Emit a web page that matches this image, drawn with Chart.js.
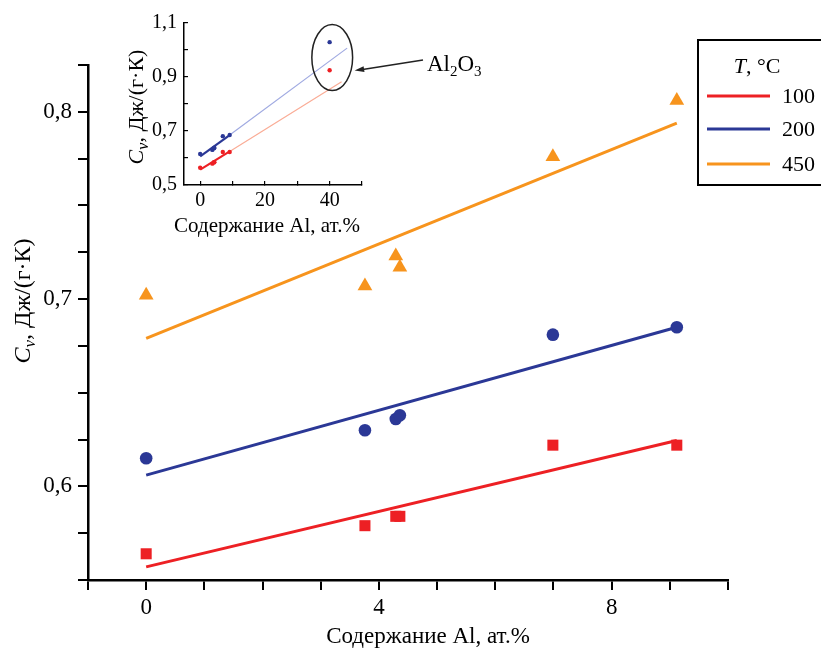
<!DOCTYPE html>
<html><head><meta charset="utf-8">
<script src="https://cdn.jsdelivr.net/npm/chart.js@4"></script>
<style>
html,body{margin:0;padding:0;background:#fff;}
#wrap{position:relative;width:821px;height:655px;overflow:hidden;background:#fff;}
#main{position:absolute;left:0;top:0;}
#inset{position:absolute;left:100px;top:0;}
</style></head><body>
<div id="wrap"><canvas id="main" width="821" height="655"></canvas><canvas id="inset" width="400" height="240"></canvas></div>
<script>
// ---- data ----
const alContent = [0, 3.76, 4.29, 4.36, 6.99, 9.12];
const cv100 = [0.564, 0.579, 0.584, 0.584, 0.622, 0.622];
const cv200 = [0.615, 0.630, 0.636, 0.638, 0.681, 0.685];
const cv450 = [0.702, 0.707, 0.723, 0.717, 0.776, 0.806];
const fitX = [0, 9.12];
const fit100 = [0.557, 0.6245];
const fit200 = [0.606, 0.685];
const fit450 = [0.679, 0.794];
// inset: Al2O3 points and extended fits
const al2o3X = [40];
const al2o3Cv100 = [0.925];
const al2o3Cv200 = [1.029];
const extX100 = [9.12, 43.7];
const ext100 = [0.6245, 0.882];
const extX200 = [9.12, 45.4];
const ext200 = [0.685, 1.007];
// ticks / labels
const xTickLabels = [0, 4, 8];
const yTickLabels = [0.6, 0.7, 0.8];
const insetXTickLabels = [0, 20, 40];
const insetYTickLabels = [0.5, 0.7, 0.9, 1.1];
const seriesNames = ['100', '200', '450'];
const xTitle = 'Содержание Al, ат.%';
const yTitleTail = ', Дж/(г·К)';
const calloutLabel = ['Al', '2', 'O', '3'];

const FONT = '"Liberation Serif", "Times New Roman", serif';
const C100 = 'rgb(237,32,36)';
const C200 = 'rgb(43,56,150)';
const C450 = 'rgb(247,148,29)';
const C100L = 'rgb(250,172,150)';
const C200L = 'rgb(160,170,225)';

const pts = (xs, ys) => xs.map((x, i) => ({x: x, y: ys[i]}));
const near = (arr, v) => arr.some(t => Math.abs(t - v) < 1e-6);
const comma = (v, d) => v.toFixed(d).replace('.', ',');

function drawCvTitle(ctx, cx, cy, size, rotate) {
  ctx.save();
  ctx.translate(cx, cy);
  if (rotate) ctx.rotate(-Math.PI / 2);
  const fi = 'italic ' + size + 'px ' + FONT;
  const fs = 'italic ' + Math.round(size * 0.72) + 'px ' + FONT;
  const fr = size + 'px ' + FONT;
  ctx.font = fi; const w1 = ctx.measureText('C').width;
  ctx.font = fs; const w2 = ctx.measureText('v').width;
  ctx.font = fr; const w3 = ctx.measureText(yTitleTail).width;
  let x = -(w1 + w2 + w3) / 2;
  ctx.fillStyle = '#000';
  ctx.textBaseline = 'alphabetic';
  ctx.textAlign = 'left';
  const base = size * 0.33;
  ctx.font = fi; ctx.fillText('C', x, base); x += w1;
  ctx.font = fs; ctx.fillText('v', x, base + size * 0.2); x += w2;
  ctx.font = fr; ctx.fillText(yTitleTail, x, base);
  ctx.restore();
}

const mainDeco = {
  id: 'mainDeco',
  afterDraw(chart) {
    const ctx = chart.ctx;
    ctx.save();
    // x title
    ctx.fillStyle = '#000';
    ctx.font = '23px ' + FONT;
    ctx.textAlign = 'center';
    ctx.textBaseline = 'middle';
    ctx.fillText(xTitle, 428, 637);
    // y title
    drawCvTitle(ctx, 22, 301, 24, true);
    // legend
    ctx.strokeStyle = '#000';
    ctx.lineWidth = 2;
    ctx.strokeRect(698, 40, 140, 145);
    ctx.textBaseline = 'middle';
    ctx.textAlign = 'left';
    ctx.font = 'italic 22px ' + FONT;
    const wT = ctx.measureText('T').width;
    ctx.font = '22px ' + FONT;
    const wR = ctx.measureText(', °C').width;
    let tx = 757 - (wT + wR) / 2;
    ctx.font = 'italic 22px ' + FONT; ctx.fillText('T', tx, 67);
    ctx.font = '22px ' + FONT; ctx.fillText(', °C', tx + wT, 67);
    const cols = [C100, C200, C450];
    const ys = [96, 129, 164];
    seriesNames.forEach((n, i) => {
      ctx.strokeStyle = cols[i];
      ctx.lineWidth = 3;
      ctx.beginPath(); ctx.moveTo(707, ys[i]); ctx.lineTo(770, ys[i]); ctx.stroke();
      ctx.fillStyle = '#000';
      ctx.fillText(n, 782, ys[i] + 1);
    });
    ctx.restore();
  }
};

new Chart(document.getElementById('main'), {
  type: 'scatter',
  data: { datasets: [
    {data: pts(alContent, cv450), pointStyle: 'triangle', pointRadius: 8.5, backgroundColor: C450, borderColor: C450, borderWidth: 0},
    {data: pts(alContent, cv200), pointStyle: 'circle', pointRadius: 6.3, backgroundColor: C200, borderColor: C200, borderWidth: 0},
    {data: pts(alContent, cv100), pointStyle: 'rect', pointRadius: 7.8, backgroundColor: C100, borderColor: C100, borderWidth: 0},
    {data: pts(fitX, fit450), showLine: true, borderColor: C450, borderWidth: 3, pointRadius: 0},
    {data: pts(fitX, fit200), showLine: true, borderColor: C200, borderWidth: 3, pointRadius: 0},
    {data: pts(fitX, fit100), showLine: true, borderColor: C100, borderWidth: 3, pointRadius: 0}
  ]},
  options: {
    responsive: false, animation: false, devicePixelRatio: 1,
    layout: {padding: {top: 65, right: 93, left: 0, bottom: 0}},
    plugins: {legend: {display: false}, tooltip: {enabled: false}},
    scales: {
      x: {type: 'linear', min: -1, max: 10,
        afterFit: s => { s.height = 75; },
        ticks: {stepSize: 1, autoSkip: false, maxRotation: 0, padding: 4, color: '#000',
          font: {family: FONT, size: 23},
          callback: v => near(xTickLabels, v) ? String(Math.round(v)) : ''},
        grid: {drawOnChartArea: false, drawTicks: true, tickLength: 10, color: '#000', lineWidth: 2},
        border: {display: true, color: '#000', width: 2.5}},
      y: {type: 'linear', min: 0.55, max: 0.825,
        afterFit: s => { s.width = 88; },
        ticks: {stepSize: 0.025, autoSkip: false, padding: 6, color: '#000',
          font: {family: FONT, size: 23},
          callback: v => near(yTickLabels, v) ? comma(v, 1) : ''},
        grid: {drawOnChartArea: false, drawTicks: true, tickLength: 10, color: '#000', lineWidth: 2},
        border: {display: true, color: '#000', width: 2.5}}
    }
  },
  plugins: [mainDeco]
});

// ---- inset ----
const ellipse = {cx: 40.8, cy: 0.972, rx: 6.3, ry: 0.122};
const insetDeco = {
  id: 'insetDeco',
  afterDraw(chart) {
    const ctx = chart.ctx;
    const xs = chart.scales.x, ys = chart.scales.y;
    ctx.save();
    // ellipse
    const px = xs.getPixelForValue(ellipse.cx), py = ys.getPixelForValue(ellipse.cy);
    const rx = Math.abs(xs.getPixelForValue(ellipse.cx + ellipse.rx) - px);
    const ry = Math.abs(ys.getPixelForValue(ellipse.cy + ellipse.ry) - py);
    ctx.strokeStyle = '#222';
    ctx.lineWidth = 1.5;
    ctx.beginPath(); ctx.ellipse(px, py, rx, ry, 0, 0, Math.PI * 2); ctx.stroke();
    // arrow
    const ax = px + rx + 2, ay = py + 13, bx = 323, by = 60;
    ctx.beginPath(); ctx.moveTo(bx, by); ctx.lineTo(ax + 8, ay - 1); ctx.stroke();
    const ang = Math.atan2(ay - by, ax - bx);
    ctx.fillStyle = '#222';
    ctx.beginPath();
    ctx.moveTo(ax, ay);
    ctx.lineTo(ax - 10 * Math.cos(ang - 0.3), ay - 10 * Math.sin(ang - 0.3));
    ctx.lineTo(ax - 10 * Math.cos(ang + 0.3), ay - 10 * Math.sin(ang + 0.3));
    ctx.closePath(); ctx.fill();
    // label
    ctx.fillStyle = '#000';
    ctx.textBaseline = 'alphabetic';
    ctx.textAlign = 'left';
    let x = 327;
    const big = '23px ' + FONT, small = '15px ' + FONT;
    calloutLabel.forEach((t, i) => {
      const sub = i % 2 === 1;
      ctx.font = sub ? small : big;
      ctx.fillText(t, x, sub ? 76 : 71);
      x += ctx.measureText(t).width;
    });
    // titles
    ctx.font = '21px ' + FONT;
    ctx.textAlign = 'center';
    ctx.textBaseline = 'middle';
    ctx.fillText(xTitle, 167, 226);
    drawCvTitle(ctx, 36, 107, 22, true);
    ctx.restore();
  }
};

const insetAxis = {drawOnChartArea: false, drawTicks: true, tickLength: -4, color: '#000', lineWidth: 1.2};
new Chart(document.getElementById('inset'), {
  type: 'scatter',
  data: { datasets: [
    {data: pts(alContent.concat(al2o3X), cv200.concat(al2o3Cv200)), pointStyle: 'circle', pointRadius: 2.2, backgroundColor: C200, borderWidth: 0},
    {data: pts(alContent.concat(al2o3X), cv100.concat(al2o3Cv100)), pointStyle: 'circle', pointRadius: 2.2, backgroundColor: C100, borderWidth: 0},
    {data: pts(fitX, fit200), showLine: true, borderColor: C200, borderWidth: 2.2, pointRadius: 0},
    {data: pts(fitX, fit100), showLine: true, borderColor: C100, borderWidth: 2.2, pointRadius: 0},
    {data: pts(extX200, ext200), showLine: true, borderColor: C200L, borderWidth: 1.2, pointRadius: 0},
    {data: pts(extX100, ext100), showLine: true, borderColor: C100L, borderWidth: 1.2, pointRadius: 0}
  ]},
  options: {
    responsive: false, animation: false, devicePixelRatio: 1,
    layout: {padding: {top: 17, right: 138, left: 0, bottom: 0}},
    plugins: {legend: {display: false}, tooltip: {enabled: false}},
    scales: {
      x: {type: 'linear', min: -5, max: 50,
        afterFit: s => { s.height = 55; },
        ticks: {stepSize: 10, includeBounds: false, autoSkip: false, maxRotation: 0, padding: 8, color: '#000',
          font: {family: FONT, size: 20},
          callback: v => near(insetXTickLabels, v) ? String(Math.round(v)) : ''},
        grid: insetAxis,
        border: {display: true, color: '#000', width: 1.5}},
      y: {type: 'linear', min: 0.5, max: 1.1,
        afterFit: s => { s.width = 84; },
        ticks: {stepSize: 0.1, autoSkip: false, padding: 11, color: '#000',
          font: {family: FONT, size: 20},
          callback: v => near(insetYTickLabels, v) ? comma(v, 1) : ''},
        grid: insetAxis,
        border: {display: true, color: '#000', width: 1.5}}
    }
  },
  plugins: [insetDeco]
});
</script>
</body></html>
